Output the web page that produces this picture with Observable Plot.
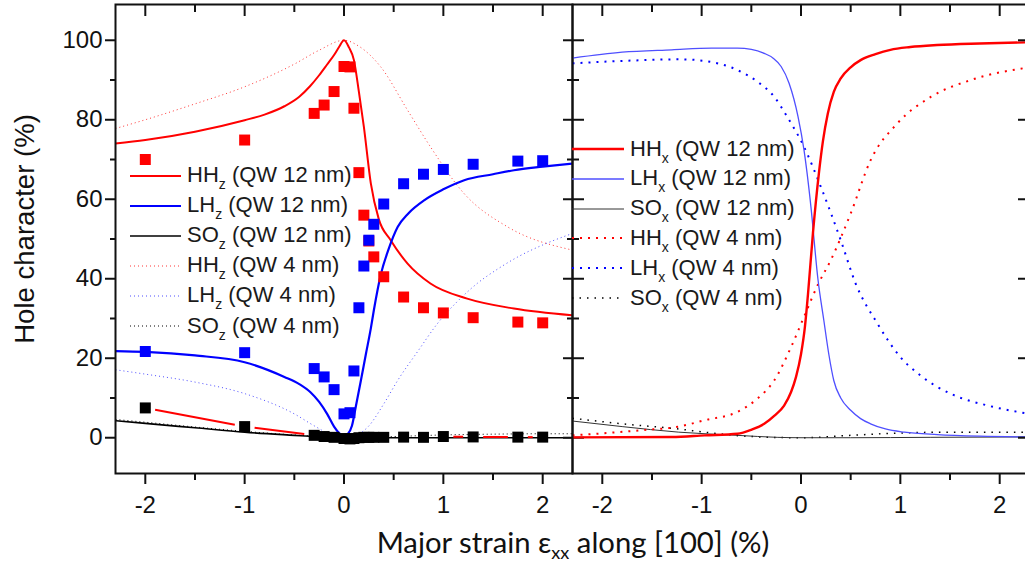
<!DOCTYPE html>
<html><head><meta charset="utf-8">
<script src="https://cdn.jsdelivr.net/npm/d3@7"></script>
<script src="https://cdn.jsdelivr.net/npm/@observablehq/plot@0.6"></script>
<style>
body{margin:0;background:#fff;overflow:hidden}
#wrap{position:relative;width:1025px;height:565px;overflow:hidden;font-family:Arial,"Liberation Sans",sans-serif;color:#111}
.panel{position:absolute;top:0}
.leg{position:absolute;white-space:nowrap;font-size:22px;color:#1a1a1a;line-height:1}
.leg sub{font-size:14px;vertical-align:-7px;line-height:0}
#ytitle{position:absolute;white-space:nowrap;font-size:26px;color:#111;transform:translate(-50%,-50%) rotate(-90deg);line-height:1}
#xtitle{position:absolute;white-space:nowrap;font-family:Lato,"Open Sans",sans-serif;font-size:26px;color:#111;transform:translate(-50%,-50%);line-height:1}
#xtitle sub{font-size:0.62em;vertical-align:-0.3em;line-height:0}
</style></head>
<body><div id="wrap"></div>
<script>
// ---------------- data ----------------
// left panel: z-character (%)
const hhz12X = [-2.3,-2,-1.5,-1,-0.8,-0.6,-0.45,-0.34,-0.25,-0.17,-0.1,-0.05,0,0.05,0.1,0.15,0.2,0.27,0.35,0.47,0.64,0.87,1.24,1.71,2.3];
const hhz12Y = [74,74.9,77,79.9,81.3,83.4,85.8,88.5,91.2,93.9,96.3,98.3,100,98.2,95,87,78.2,64,55,49.7,43.8,38.8,35,32.5,30.8];
const lhz12X = [-2.3,-2,-1.5,-1,-0.6,-0.45,-0.34,-0.25,-0.17,-0.1,-0.05,0,0.04,0.08,0.12,0.17,0.22,0.27,0.3,0.37,0.45,0.54,0.65,0.81,1.0,1.21,1.5,1.71,2.0,2.3];
const lhz12Y = [21.8,21.6,20.7,19.0,15.3,13.5,11.5,9,6.0,2.8,1.2,0.5,1.0,3,8,14.4,21,27.5,32,41,47.5,53,56.5,59.8,62.5,64.8,66.3,67.3,68.2,69];
const soz12X = [-2.3,-2,-1.5,-1,-0.5,-0.3,0,0.5,1,1.5,2,2.3];
const soz12Y = [4.3,3.6,2.5,1.4,0.6,0.3,0,0,0,0,0,0];
const hhz4X = [-2.3,-2,-1.5,-1,-0.5,-0.25,0,0.15,0.37,0.64,0.87,1.21,1.65,2.3];
const hhz4Y = [77.8,80,84,88.3,94,97.5,100,98.5,93.3,82.4,73.2,61.4,53,47.2];
const lhz4X = [-2.3,-2,-1.5,-1,-0.5,-0.3,-0.15,0,0.1,0.24,0.4,0.54,0.75,0.94,1.15,1.34,1.55,1.75,2.0,2.3];
const lhz4Y = [17.1,16,14,11.1,6,3,1,0.2,0.5,2.7,8.5,14.4,22,28.7,34.5,38.8,42.5,45.5,48.5,51.4];
const soz4X = [-2.3,-2,-1.5,-1,-0.5,-0.3,0,0.5,1,1.5,2,2.3];
const soz4Y = [4.6,3.9,2.7,1.6,0.7,0.4,0,0.3,0.7,0.9,1.0,1.0];
// experimental points (squares)
const expX  = [-2,-1,-0.3,-0.2,-0.1,0,0.06,0.1,0.15,0.2,0.25,0.3,0.4,0.6,0.8,1.0,1.3,1.75,2.0];
const hhExp = [70.0,74.9,81.6,83.7,87.1,93.4,93.3,82.9,66.7,56,49.5,45.5,40.5,35.4,32.7,31.4,30.2,29.1,28.9];
const lhExp = [21.7,21.4,17.4,15.3,12.1,6.0,6.3,16.8,32.7,43.2,49.7,53.7,58.8,63.9,66.3,67.5,68.8,69.6,69.7];
const soExp = [7.5,2.8,0.6,0.3,0.1,-0.2,-0.3,-0.2,0,0.1,0.1,0.1,0.1,0.15,0.1,0.3,0.2,0.15,0.15];
// right panel: x-character (%)
const hhx12X = [-2.3,-1.3,-0.97,-0.64,-0.5,-0.37,-0.27,-0.17,-0.1,-0.05,0,0.04,0.07,0.12,0.18,0.22,0.27,0.33,0.4,0.5,0.6,0.75,0.9,1.1,1.37,1.8,2.3];
const hhx12Y = [0.1,0.2,0.6,1.0,2.0,3.5,5.5,8.1,11.5,15.3,21,28,36,51.4,66.5,74.5,81.6,87,90.4,93.2,95,96.5,97.6,98.3,98.8,99.2,99.5];
const lhx12X = [-2.3,-1.8,-1.3,-0.9,-0.64,-0.5,-0.37,-0.28,-0.2,-0.12,-0.03,0.03,0.1,0.17,0.23,0.28,0.33,0.4,0.5,0.6,0.7,0.85,1.04,1.37,1.8,2.3];
const lhx12Y = [95.5,97,97.6,98,98,97.7,96.7,95.5,93.4,89.2,80.8,72.4,58.1,40,29.5,21,14.4,10,6.9,4.8,3.5,2.2,1.4,0.8,0.4,0.2];
const sox12X = [-2.3,-1.8,-1.23,-0.64,-0.24,0,0.5,1.3,2.3];
const sox12Y = [4.2,2.8,1.4,0.6,0.1,0,0,0.1,0.2];
const hhx4X = [-2.3,-2,-1.6,-1.23,-0.97,-0.64,-0.44,-0.27,-0.1,0.03,0.17,0.3,0.5,0.7,0.97,1.31,1.71,2.3];
const hhx4Y = [0.6,1.1,1.9,2.8,4.4,6.5,9.8,14.4,22.8,30.4,38.5,44.7,56.4,69.8,79.1,85.8,90,93.2];
const lhx4X = [-2.3,-1.8,-1.21,-0.97,-0.64,-0.44,-0.27,-0.14,0.03,0.2,0.4,0.55,0.77,1.0,1.2,1.54,1.88,2.3];
const lhx4Y = [94.2,94.8,95.2,94.8,92.5,89.6,85.8,80.8,73.2,63.1,49.7,38.8,28.7,20.3,15.7,10.7,8.1,6.0];
const sox4X = [-2.3,-1.8,-1.23,-0.97,-0.5,0,0.5,1.0,1.5,2.3];
const sox4Y = [4.9,3.5,2.2,1.4,0.3,0,0.6,1.2,1.4,1.4];
// ticks and labels
const xDomain = [-2.3, 2.3], yDomain = [-9, 109];
const xMajor = [-2,-1,0,1,2], xMinor = [-1.5,-0.5,0.5,1.5];
const yMajor = [0,20,40,60,80,100], yMinor = [10,30,50,70,90];
const legendZ = [["HH","z","QW 12 nm"],["LH","z","QW 12 nm"],["SO","z","QW 12 nm"],["HH","z","QW 4 nm"],["LH","z","QW 4 nm"],["SO","z","QW 4 nm"]];
const legendX = [["HH","x","QW 12 nm"],["LH","x","QW 12 nm"],["SO","x","QW 12 nm"],["HH","x","QW 4 nm"],["LH","x","QW 4 nm"],["SO","x","QW 4 nm"]];
const yTitle = "Hole character (%)";
const xTitleParts = ["Major strain \u03b5", "xx", " along [100] (%)"];

// ---------------- styles ----------------
const RED = "#ff0000", BLUE = "#0000ff", LBLUE = "#4f4fff", BLACK = "#000";
const stZ = [
  {stroke: RED, strokeWidth: 2},
  {stroke: BLUE, strokeWidth: 2.2},
  {stroke: BLACK, strokeWidth: 1.6},
  {stroke: RED, strokeWidth: 1, strokeDasharray: "1,3", strokeOpacity: 0.8},
  {stroke: BLUE, strokeWidth: 1, strokeDasharray: "1,3", strokeOpacity: 0.7},
  {stroke: BLACK, strokeWidth: 1, strokeDasharray: "1,3"}
];
const stX = [
  {stroke: RED, strokeWidth: 2.4},
  {stroke: LBLUE, strokeWidth: 1.3},
  {stroke: "#333", strokeWidth: 1},
  {stroke: RED, strokeWidth: 2, strokeDasharray: "2,6"},
  {stroke: BLUE, strokeWidth: 2, strokeDasharray: "2,6"},
  {stroke: BLACK, strokeWidth: 1.5, strokeDasharray: "1.5,6"}
];

const pts = (xs, ys) => xs.map((x, i) => ({x, y: ys[i]}));
const fmt = d => String(d);
const blank = () => "";

function axes(side) {
  const m = [
    Plot.frame({strokeWidth: 2}),
    Plot.axisX({ticks: xMajor, tickSize: 11, tickPadding: 11, tickFormat: fmt, label: null, strokeWidth: 2, fontSize: 24}),
    Plot.axisX({ticks: xMinor, tickSize: 7, tickFormat: blank, label: null, strokeWidth: 2}),
    Plot.axisX({anchor: "top", ticks: xMajor, tickSize: -11, tickFormat: blank, label: null, strokeWidth: 2}),
    Plot.axisX({anchor: "top", ticks: xMinor, tickSize: -7, tickFormat: blank, label: null, strokeWidth: 2})
  ];
  if (side === "left") {
    m.push(
      Plot.axisY({ticks: yMajor, tickSize: 10, tickPadding: 3, tickFormat: fmt, label: null, strokeWidth: 2, fontSize: 24}),
      Plot.axisY({ticks: yMinor, tickSize: 5, tickFormat: blank, label: null, strokeWidth: 2}),
      Plot.axisY({anchor: "right", ticks: yMajor, tickSize: 11, tickFormat: blank, label: null, strokeWidth: 2}),
      Plot.axisY({anchor: "right", ticks: yMajor, tickSize: -10, tickFormat: blank, label: null, strokeWidth: 2}),
      Plot.axisY({anchor: "right", ticks: yMinor, tickSize: 6, tickFormat: blank, label: null, strokeWidth: 2}),
      Plot.axisY({anchor: "right", ticks: yMinor, tickSize: -6, tickFormat: blank, label: null, strokeWidth: 2})
    );
  } else {
    m.push(
      Plot.axisY({anchor: "right", ticks: yMajor, tickSize: -12, tickFormat: blank, label: null, strokeWidth: 2}),
      Plot.axisY({anchor: "right", ticks: yMinor, tickSize: -5, tickFormat: blank, label: null, strokeWidth: 2})
    );
  }
  return m;
}

const common = {
  height: 530, marginTop: 4, marginBottom: 57,
  x: {domain: xDomain, label: null},
  y: {domain: yDomain, label: null},
  style: {background: "transparent", overflow: "visible", maxWidth: "none", fontFamily: "Arial, 'Liberation Sans', sans-serif", fontSize: "24px", color: "#111"}
};
const line = (xs, ys, st) => Plot.line(pts(xs, ys), {x: "x", y: "y", curve: "monotone-x", clip: true, strokeLinecap: "butt", ...st});

// connecting line for SO experimental points (with gaps near squares)
const pxX = 457 / 4.6, pxY = 469 / 118, gap = 10;
const soSegs = [];
for (let i = 0; i < expX.length - 1; i++) {
  const x1 = expX[i], y1 = soExp[i], x2 = expX[i+1], y2 = soExp[i+1];
  const L = Math.hypot((x2 - x1) * pxX, (y2 - y1) * pxY);
  if (L > 2 * gap + 1) {
    const t = gap / L;
    soSegs.push({x1: x1 + (x2 - x1) * t, y1: y1 + (y2 - y1) * t, x2: x2 - (x2 - x1) * t, y2: y2 - (y2 - y1) * t});
  }
}

const left = Plot.plot({
  ...common, width: 572, marginLeft: 115, marginRight: 0,
  marks: [
    line(hhz4X, hhz4Y, stZ[3]), line(lhz4X, lhz4Y, stZ[4]), line(soz4X, soz4Y, stZ[5]),
    line(soz12X, soz12Y, stZ[2]), line(hhz12X, hhz12Y, stZ[0]), line(lhz12X, lhz12Y, stZ[1]),
    Plot.link(soSegs, {x1: "x1", y1: "y1", x2: "x2", y2: "y2", stroke: RED, strokeWidth: 2}),
    Plot.dot(pts(expX, hhExp), {x: "x", y: "y", symbol: "square", r: 6.2, fill: RED, stroke: "none"}),
    Plot.dot(pts(expX, lhExp), {x: "x", y: "y", symbol: "square", r: 6.2, fill: BLUE, stroke: "none"}),
    Plot.dot(pts(expX, soExp), {x: "x", y: "y", symbol: "square", r: 6.2, fill: BLACK, stroke: "none"}),
    ...axes("left")
  ]
});
const right = Plot.plot({
  ...common, width: 458, marginLeft: 1, marginRight: 0,
  marks: [
    line(sox4X, sox4Y, stX[5]), line(sox12X, sox12Y, stX[2]),
    line(hhx4X, hhx4Y, stX[3]), line(lhx4X, lhx4Y, stX[4]),
    line(lhx12X, lhx12Y, stX[1]), line(hhx12X, hhx12Y, stX[0]),
    ...axes("right")
  ]
});

const wrap = document.getElementById("wrap");
const pl = document.createElement("div"); pl.className = "panel"; pl.style.left = "0px"; pl.appendChild(left); wrap.appendChild(pl);
const pr = document.createElement("div"); pr.className = "panel"; pr.style.left = "571px"; pr.appendChild(right); wrap.appendChild(pr);

// legends
function legend(entries, styles, lx1, lx2, tx, y0, dy) {
  entries.forEach(([a, s, t], i) => {
    const yc = y0 + i * dy, st = styles[i];
    const svg = document.createElementNS("http://www.w3.org/2000/svg", "svg");
    svg.setAttribute("width", lx2 - lx1); svg.setAttribute("height", 6);
    svg.style.position = "absolute"; svg.style.left = lx1 + "px"; svg.style.top = (yc - 3) + "px";
    const ln = document.createElementNS("http://www.w3.org/2000/svg", "line");
    ln.setAttribute("x1", 0); ln.setAttribute("x2", lx2 - lx1); ln.setAttribute("y1", 3); ln.setAttribute("y2", 3);
    ln.setAttribute("stroke", st.stroke); ln.setAttribute("stroke-width", st.strokeWidth);
    if (st.strokeDasharray) ln.setAttribute("stroke-dasharray", st.strokeDasharray);
    if (st.strokeOpacity) ln.setAttribute("stroke-opacity", st.strokeOpacity);
    svg.appendChild(ln); wrap.appendChild(svg);
    const d = document.createElement("div"); d.className = "leg";
    d.innerHTML = `${a}<sub>${s}</sub> (${t})`;
    d.style.left = tx + "px";
    d.style.top = (yc - 11.5) + "px";
    wrap.appendChild(d);
  });
}
legend(legendZ, stZ, 130, 181, 187, 175.5, 30.1);
legend(legendX, stX, 572, 624, 630, 149, 29.8);

// axis titles
const yt = document.createElement("div"); yt.id = "ytitle"; yt.textContent = yTitle; wrap.appendChild(yt);
const ytw = yt.offsetWidth; yt.style.fontSize = (26 * 230 / ytw) + "px";
yt.style.left = "25px"; yt.style.top = "229px";
const xt = document.createElement("div"); xt.id = "xtitle";
xt.innerHTML = `${xTitleParts[0]}<sub>${xTitleParts[1]}</sub>${xTitleParts[2]}`; wrap.appendChild(xt);
const xtw = xt.offsetWidth; xt.style.fontSize = (26 * 393 / xtw) + "px";
xt.style.left = "573px"; xt.style.top = "542px";
</script></body></html>
